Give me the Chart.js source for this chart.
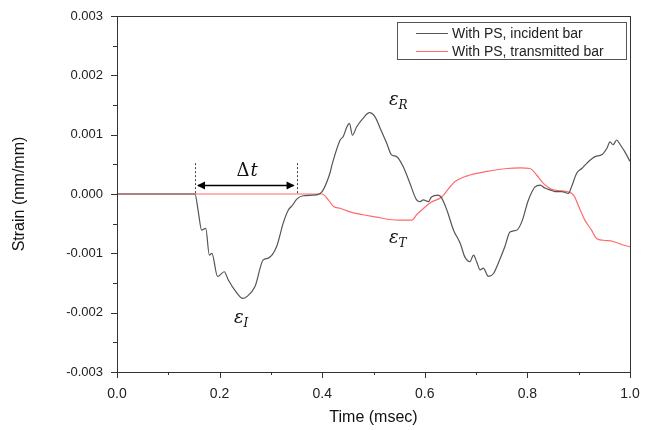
<!DOCTYPE html>
<html>
<head>
<meta charset="utf-8">
<script src="https://cdn.jsdelivr.net/npm/chart.js@4/dist/chart.umd.min.js"></script>
<style>
  html, body { margin: 0; padding: 0; background: #fff; }
  #wrap { width: 659px; height: 430px; }
</style>
</head>
<body>
<div id="wrap"><canvas id="strainChart" width="659" height="430"></canvas></div>
<script>
// Data (time in msec, strain in mm/mm)
const incTime = [0, 0.152, 0.158, 0.165, 0.173, 0.180, 0.185, 0.196, 0.209, 0.217, 0.232, 0.245, 0.253, 0.269, 0.285, 0.295, 0.311, 0.324, 0.334, 0.342, 0.350, 0.363, 0.383, 0.396, 0.402, 0.415, 0.420, 0.435, 0.441, 0.448, 0.453, 0.459, 0.467, 0.480, 0.492, 0.503, 0.513, 0.526, 0.535, 0.545, 0.558, 0.571, 0.584, 0.591, 0.597, 0.607, 0.613, 0.626, 0.633, 0.643, 0.656, 0.669, 0.678, 0.688, 0.695, 0.701, 0.708, 0.714, 0.724, 0.734, 0.743, 0.756, 0.766, 0.779, 0.789, 0.802, 0.815, 0.825, 0.834, 0.844, 0.854, 0.867, 0.880, 0.886, 0.896, 0.906, 0.916, 0.932, 0.945, 0.955, 0.961, 0.967, 0.974, 0.981, 0.990, 1.0];
const incStrain = [0, 0, -0.00027, -0.00061, -0.00058, -0.00103, -0.00100, -0.00139, -0.00131, -0.00145, -0.00165, -0.00176, -0.00173, -0.00156, -0.00111, -0.00108, -0.00089, -0.00049, -0.00027, -0.00019, -0.00009, -0.00003, -0.00002, 0.00001, 0.00007, 0.00035, 0.00052, 0.00091, 0.00097, 0.00113, 0.00119, 0.00099, 0.00113, 0.00128, 0.00137, 0.00130, 0.00111, 0.00085, 0.00066, 0.00063, 0.00046, 0.00018, -0.00010, -0.00013, -0.00010, -0.00013, -0.00005, -0.00002, -0.00007, -0.00027, -0.00061, -0.00083, -0.00106, -0.00114, -0.00103, -0.00114, -0.00128, -0.00125, -0.00139, -0.00134, -0.00117, -0.00089, -0.00064, -0.00061, -0.00047, -0.00010, 0.00012, 0.00015, 0.00010, 0.00007, 0.00004, 0.00004, 0.00001, 0.00012, 0.00035, 0.00043, 0.00052, 0.00063, 0.00066, 0.00077, 0.00088, 0.00083, 0.00091, 0.00083, 0.00071, 0.00055];

const traTime = [0, 0.400, 0.412, 0.422, 0.435, 0.454, 0.480, 0.506, 0.532, 0.552, 0.575, 0.584, 0.594, 0.610, 0.633, 0.649, 0.659, 0.688, 0.721, 0.760, 0.786, 0.805, 0.818, 0.831, 0.851, 0.877, 0.890, 0.903, 0.912, 0.925, 0.935, 0.948, 0.967, 0.987, 1.0];
const traStrain = [0, 0, -0.00010, -0.00021, -0.00024, -0.00030, -0.00035, -0.00039, -0.00043, -0.00044, -0.00044, -0.00035, -0.00027, -0.00015, -0.00005, 0.00012, 0.00021, 0.00032, 0.00038, 0.00043, 0.00044, 0.00043, 0.00032, 0.00018, 0.00007, 0.00004, -0.00002, -0.00027, -0.00044, -0.00061, -0.00075, -0.00078, -0.00080, -0.00086, -0.00089];

const seriesNames = ['With PS, incident bar', 'With PS, transmitted bar'];
const seriesColors = ['#555555', '#ff6a6a'];

const toPoints = (xs, ys) => xs.map((x, i) => ({ x: x, y: ys[i] }));

// Frame, ticks, legend and labels drawn by hand
const decorPlugin = {
  id: 'decor',
  afterDatasetsDraw(chart) {
    const ctx = chart.ctx;
    const a = chart.chartArea;
    const xs = chart.scales.x, ys = chart.scales.y;
    ctx.save();

    // frame
    ctx.strokeStyle = '#333';
    ctx.lineWidth = 1;
    ctx.strokeRect(a.left + 0.5, a.top + 0.5, a.right - a.left, a.bottom - a.top);

    // x ticks
    for (let i = 0; i <= 10; i++) {
      const px = Math.round(xs.getPixelForValue(i / 10)) + 0.5;
      const len = i % 2 === 0 ? 6 : 3;
      ctx.beginPath();
      ctx.moveTo(px, a.bottom);
      ctx.lineTo(px, a.bottom + len);
      ctx.stroke();
    }
    // y ticks
    for (let i = -6; i <= 6; i++) {
      const py = Math.round(ys.getPixelForValue(i * 0.0005)) + 0.5;
      const len = i % 2 === 0 ? 6 : 4;
      ctx.beginPath();
      ctx.moveTo(a.left, py);
      ctx.lineTo(a.left - len, py);
      ctx.stroke();
    }

    // legend
    const lx = a.right - 233, ly = a.top + 6, lw = 229, lh = 37;
    ctx.strokeStyle = '#555';
    ctx.strokeRect(lx + 0.5, ly + 0.5, lw, lh);
    ctx.font = '14px "Liberation Sans", Arial, sans-serif';
    ctx.textBaseline = 'middle';
    ctx.fillStyle = '#222';
    seriesNames.forEach((name, i) => {
      const ry = ly + 11 + i * 18;
      ctx.strokeStyle = seriesColors[i];
      ctx.beginPath();
      ctx.moveTo(lx + 19, ry + 0.5);
      ctx.lineTo(lx + 51, ry + 0.5);
      ctx.stroke();
      ctx.fillText(name, lx + 55, ry + 1);
    });

    // delta t marker
    const x1 = xs.getPixelForValue(0.152), x2 = xs.getPixelForValue(0.350);
    const yTop = ys.getPixelForValue(0.00052), yZero = ys.getPixelForValue(0);
    ctx.strokeStyle = '#444';
    ctx.setLineDash([2, 2]);
    [x1, x2].forEach(px => {
      ctx.beginPath();
      ctx.moveTo(Math.round(px) + 0.5, yTop);
      ctx.lineTo(Math.round(px) + 0.5, yZero);
      ctx.stroke();
    });
    ctx.setLineDash([]);
    const ay = Math.round(ys.getPixelForValue(0.00015)) + 0.5;
    ctx.strokeStyle = '#000';
    ctx.fillStyle = '#000';
    ctx.lineWidth = 1.5;
    ctx.beginPath();
    ctx.moveTo(x1 + 3, ay);
    ctx.lineTo(x2 - 3, ay);
    ctx.stroke();
    [[x1 + 2, 1], [x2 - 2, -1]].forEach(([px, d]) => {
      ctx.beginPath();
      ctx.moveTo(px, ay);
      ctx.lineTo(px + 8 * d, ay - 4);
      ctx.lineTo(px + 8 * d, ay + 4);
      ctx.closePath();
      ctx.fill();
    });

    // math labels
    const mathLabel = (t, v, main, sub) => {
      const px = xs.getPixelForValue(t), py = ys.getPixelForValue(v);
      ctx.fillStyle = '#111';
      ctx.textBaseline = 'alphabetic';
      ctx.textAlign = 'left';
      ctx.font = 'italic 18px "DejaVu Serif", serif';
      const w = ctx.measureText(main).width;
      ctx.fillText(main, px, py + 5);
      if (sub) {
        ctx.font = 'italic 12px "DejaVu Serif", serif';
        ctx.fillText(sub, px + w, py + 9);
      }
    };
    ctx.fillStyle = '#111';
    ctx.font = '18px "DejaVu Serif", serif';
    const dx = xs.getPixelForValue(0.233), dy = ys.getPixelForValue(0.00048) + 6;
    ctx.fillText('\u0394', dx, dy);
    const dw = ctx.measureText('\u0394').width;
    ctx.font = 'italic 18px "DejaVu Serif", serif';
    ctx.fillText('t', dx + dw + 1, dy);

    mathLabel(0.530, 0.00159, '\u03b5', 'R');
    mathLabel(0.228, -0.00209, '\u03b5', 'I');
    mathLabel(0.530, -0.00074, '\u03b5', 'T');

    ctx.restore();
  }
};

new Chart(document.getElementById('strainChart').getContext('2d'), {
  type: 'scatter',
  data: {
    datasets: [
      {
        label: seriesNames[0],
        data: toPoints(incTime, incStrain),
        showLine: true,
        borderColor: seriesColors[0],
        borderWidth: 1.2,
        pointRadius: 0,
        cubicInterpolationMode: 'monotone'
      },
      {
        label: seriesNames[1],
        data: toPoints(traTime, traStrain),
        showLine: true,
        borderColor: seriesColors[1],
        borderWidth: 1.2,
        pointRadius: 0,
        cubicInterpolationMode: 'monotone'
      }
    ]
  },
  options: {
    responsive: false,
    animation: false,
    layout: { padding: { top: 16, right: 29, left: 0, bottom: 0 } },
    plugins: {
      legend: { display: false },
      tooltip: { enabled: false }
    },
    scales: {
      x: {
        type: 'linear',
        min: 0,
        max: 1,
        afterFit: s => { s.height = 58; },
        border: { display: false },
        grid: { display: false },
        ticks: {
          stepSize: 0.2,
          padding: 6,
          color: '#222',
          font: { family: '"Liberation Sans", Arial, sans-serif', size: 14 },
          maxRotation: 0,
          callback: v => v.toFixed(1)
        },
        title: {
          display: true,
          text: 'Time (msec)',
          color: '#111',
          font: { family: '"Liberation Sans", Arial, sans-serif', size: 16 },
          padding: { top: 0, bottom: 3 }
        }
      },
      y: {
        type: 'linear',
        min: -0.003,
        max: 0.003,
        afterFit: s => { s.width = 117; },
        border: { display: false },
        grid: { display: false },
        ticks: {
          stepSize: 0.001,
          padding: 6,
          color: '#222',
          font: { family: '"Liberation Sans", Arial, sans-serif', size: 13 },
          callback: v => v.toFixed(3)
        },
        title: {
          display: true,
          text: 'Strain (mm/mm)',
          color: '#111',
          font: { family: '"Liberation Sans", Arial, sans-serif', size: 16 },
          padding: { top: 10, bottom: 0 }
        }
      }
    }
  },
  plugins: [decorPlugin]
});
</script>
</body>
</html>
